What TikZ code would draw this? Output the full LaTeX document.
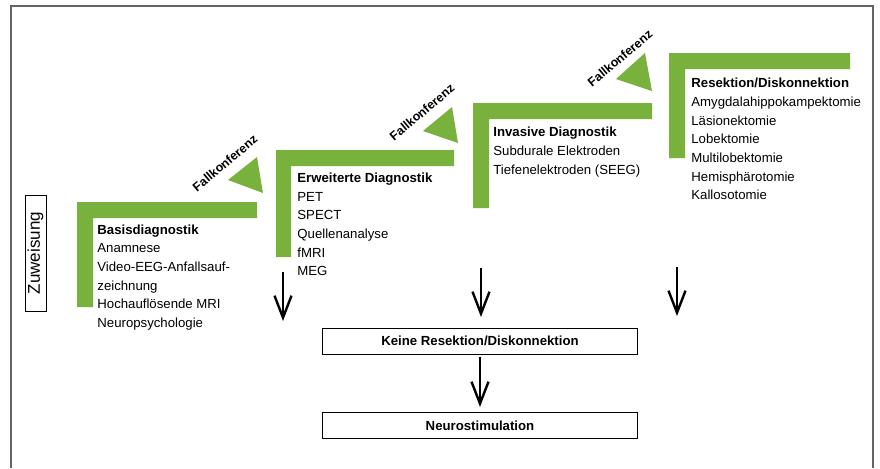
\documentclass[tikz,border=0pt]{standalone}
\usepackage{fontspec}
\setmainfont{Liberation Sans}
\usetikzlibrary{arrows.meta}
\definecolor{stepgreen}{RGB}{120,178,60}
\definecolor{framegray}{RGB}{100,100,100}

\begin{document}
\begin{tikzpicture}[x=0.5pt, y=-0.5pt,
    bar/.style={fill=stepgreen, draw=none},
    stagetext/.style={anchor=base west, align=left, inner sep=0pt, font=\fontsize{6.6}{9.35}\selectfont},
    fk/.style={rotate=40, inner sep=0pt, font=\bfseries\fontsize{6.2}{7}\selectfont},
    outbox/.style={draw, line width=0.5pt, minimum width=157.5pt, minimum height=13pt, inner sep=0pt, font=\bfseries\fontsize{6.6}{8}\selectfont},
    down/.style={line width=1.2pt, -{Straight Barb[length=11pt, width=8.5pt]}}]

    \useasboundingbox (0,0) rectangle (880,468);

    % Frame (open at the bottom)
    \draw[framegray, line width=1pt] (11,468) -- (11,6) -- (873,6) -- (873,468);

    % Zuweisung
    \node[draw, line width=0.5pt, rotate=90, minimum width=58pt, minimum height=10.5pt, inner sep=0pt,
          font=\fontsize{8.5}{10}\selectfont] (zuweisung) at (35.5,253) {Zuweisung};

    % Stage 1 (text placed by the baseline of its last line)
    \fill[bar] (77,202) -- ++(180,0) -- ++(0,16) -- ++(-164,0) -- ++(0,89) -- ++(-16,0) -- cycle;
    \fill[bar] (228,180) -- (257,157) -- (263,193) -- cycle;
    \node[fk] (fk1) at (225,163) {Fallkonferenz};
    \node[stagetext] (basis) at (97,327.5) {\textbf{Basisdiagnostik}\\Anamnese\\Video-EEG-Anfallsauf-\\zeichnung\\Hochauflösende MRI\\Neuropsychologie};

    % Stage 2
    \fill[bar] (276,150) -- ++(178,0) -- ++(0,16) -- ++(-163,0) -- ++(0,91) -- ++(-15,0) -- cycle;
    \fill[bar] (423,131) -- (452,107) -- (458,143) -- cycle;
    \node[fk] (fk2) at (422,112) {Fallkonferenz};
    \node[stagetext] (erweitert) at (297,275.8) {\textbf{Erweiterte Diagnostik}\\PET\\SPECT\\Quellenanalyse\\fMRI\\MEG};

    % Stage 3
    \fill[bar] (473,103) -- ++(179,0) -- ++(0,16) -- ++(-163,0) -- ++(0,89) -- ++(-16,0) -- cycle;
    \fill[bar] (616,79) -- (645,53) -- (652,91) -- cycle;
    \node[fk] (fk3) at (620,58) {Fallkonferenz};
    \node[stagetext] (invasiv) at (493,174.1) {\textbf{Invasive Diagnostik}\\Subdurale Elektroden\\Tiefenelektroden (SEEG)};

    % Stage 4
    \fill[bar] (669,53) -- ++(181,0) -- ++(0,16) -- ++(-165,0) -- ++(0,89) -- ++(-16,0) -- cycle;
    \node[stagetext] (resektion) at (691,199.9) {\textbf{Resektion/Diskonnektion}\\Amygdalahippokampektomie\\Läsionektomie\\Lobektomie\\Multilobektomie\\Hemisphärotomie\\Kallosotomie};

    % Outcome boxes
    \node[outbox] (keine) at (480,341) {Keine Resektion/Diskonnektion};
    \node[outbox] (neuro) at (480,425.5) {Neurostimulation};

    % Arrows
    \coordinate (a1s) at (283,272);
    \coordinate (a1e) at (283,321);
    \coordinate (a2s) at (481,268);
    \coordinate (a2e) at (481,317);
    \coordinate (a3s) at (677,267);
    \coordinate (a3e) at (677,316);
    \foreach \i in {1,2,3} {
        \draw[down] (a\i s) -- (a\i e);
    }
    \draw[down, shorten <=1pt, shorten >=2.5pt] (keine) -- (neuro);
\end{tikzpicture}
\end{document}
